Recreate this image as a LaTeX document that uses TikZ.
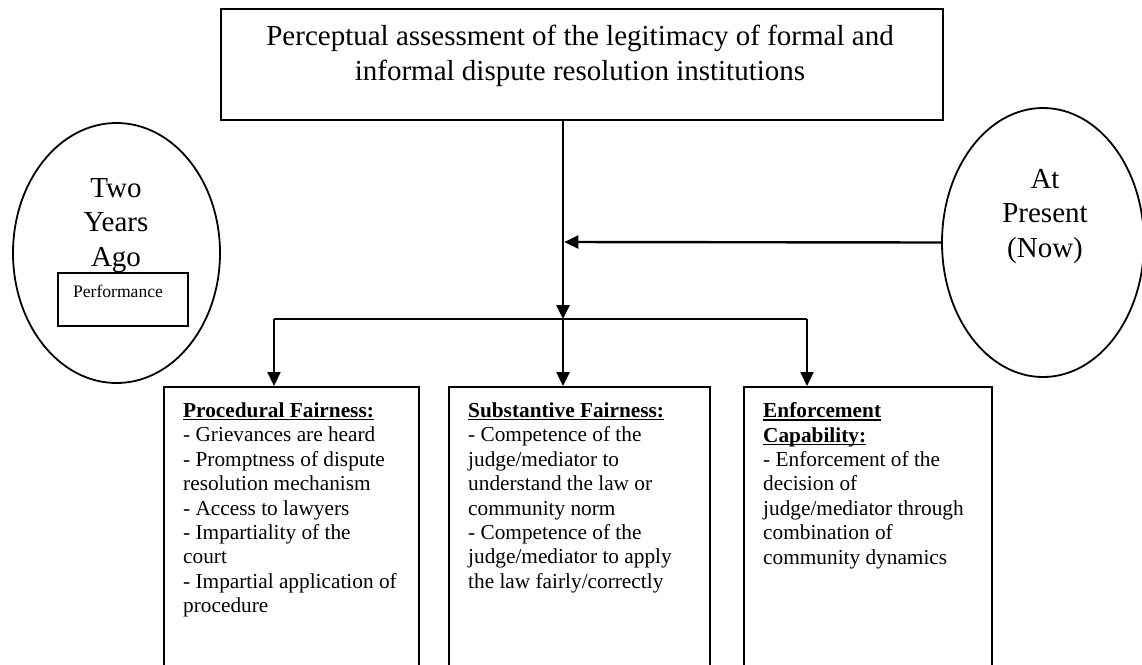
\documentclass[tikz,border=0pt]{standalone}
\usepackage{fontspec}
\setmainfont{Liberation Serif}
\usetikzlibrary{arrows.meta,shapes.geometric}
\newcommand\myul[1]{\setbox0\hbox{#1}\rlap{\rule[-3pt]{\wd0}{1.3pt}}\box0}
\begin{document}
\begin{tikzpicture}[x=1pt,y=-1pt,
  frame/.style={draw, line width=2pt, rectangle, inner sep=0pt, anchor=north west},
  oval/.style={draw, ellipse, line width=1.8pt, inner sep=0pt},
  arr/.style={-{Triangle[length=14pt,width=13pt]}, line width=2.5pt},
  body/.style={inner sep=0pt, align=left, anchor=north west, font=\fontsize{21.3}{24.4}\selectfont},
  big/.style={inner sep=0pt, align=center, anchor=north, font=\fontsize{29}{34.5}\selectfont}]
\useasboundingbox (0,0) rectangle (1142,664);
\clip (0,0) rectangle (1142,664);

% top box
\node[frame, minimum width=722pt, minimum height=111pt] (top) at (220,8) {};
\node[big] (tTop) at (580,25.2) {Perceptual assessment of the legitimacy of formal and\\informal dispute resolution institutions};

% left ellipse
\node[oval, minimum width=207pt, minimum height=260pt] (ellL) at (116.5,253) {};
\node[big] (tL) at (116,178) {Two\\Years\\Ago};
\node[frame, line width=1.5pt, minimum width=130pt, minimum height=53pt] (perf) at (57,272) {};
\node[inner sep=0pt, anchor=base, font=\fontsize{17.6}{20}\selectfont] (tPerf) at (118,297) {Performance};

% right ellipse
\node[oval, minimum width=202pt, minimum height=269pt] (ellR) at (1043,242.5) {};
\node[big] (tR) at (1045,168.7) {At\\Present\\(Now)};

% lower boxes
\node[frame, minimum width=255pt, minimum height=314pt] (b1) at (163,386) {};
\node[frame, minimum width=261pt, minimum height=314pt] (b2) at (448,386) {};
\node[frame, minimum width=248pt, minimum height=314pt] (b3) at (743,386) {};

\node[body] (t1) at (183,402.5) {\myul{\textbf{Procedural Fairness:}}\\- Grievances are heard\\- Promptness of dispute\\resolution mechanism\\- Access to lawyers\\- Impartiality of the\\court\\- Impartial application of\\procedure};
\node[body] (t2) at (468,402.5) {\myul{\textbf{Substantive Fairness:}}\\- Competence of the\\judge/mediator to\\understand the law or\\community norm\\- Competence of the\\judge/mediator to apply\\the law fairly/correctly};
\node[body] (t3) at (763,402.5) {\myul{\textbf{Enforcement}}\\\myul{\textbf{Capability:}}\\- Enforcement of the\\decision of\\judge/mediator through\\combination of\\community dynamics};

% connectors
\coordinate (j) at (563,319);
\coordinate (jl) at (274,319);
\coordinate (jr) at (807,319);
\coordinate (mid) at (563,242);
\draw[arr, line width=2.6pt] (top.south -| j) -- (j);
\draw[line width=1.8pt] (jl) -- (jr);
\draw[arr] (j) -- (b2.north -| j);
\draw[arr, line width=2.2pt] (jl) -- (b1.north -| jl);
\draw[arr, line width=2.2pt] (jr) -- (b3.north -| jr);
\draw[arr, line width=2.4pt, shorten >=1.3pt] (ellR.west) -- (mid);
\end{tikzpicture}
\end{document}
